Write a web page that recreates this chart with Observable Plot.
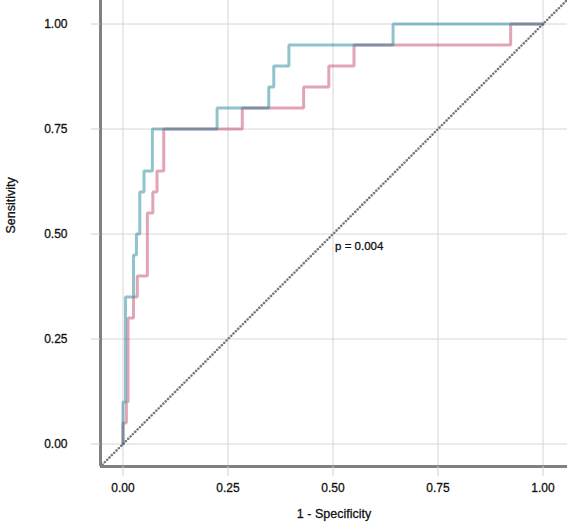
<!DOCTYPE html>
<html>
<head>
<meta charset="utf-8">
<script src="https://cdn.jsdelivr.net/npm/d3@7"></script>
<script src="https://cdn.jsdelivr.net/npm/@observablehq/plot@0.6"></script>
<style>
  html, body { margin: 0; padding: 0; background: #fff; }
  #chart svg { display: block; }
</style>
</head>
<body>
<div id="chart"></div>
<script>
// ROC curve vertices (1 - specificity, sensitivity)
const pinkFpr = [0, 0, 0.008, 0.008, 0.012, 0.012, 0.025, 0.025, 0.034, 0.034, 0.058, 0.058, 0.071, 0.071, 0.081, 0.081, 0.097, 0.097, 0.284, 0.284, 0.43, 0.43, 0.49, 0.49, 0.55, 0.55, 0.923, 0.923, 1];
const pinkTpr = [0, 0.05, 0.05, 0.10, 0.10, 0.30, 0.30, 0.35, 0.35, 0.40, 0.40, 0.55, 0.55, 0.60, 0.60, 0.65, 0.65, 0.75, 0.75, 0.80, 0.80, 0.85, 0.85, 0.90, 0.90, 0.95, 0.95, 1.0, 1.0];

const tealFpr = [0, 0, 0.006, 0.006, 0.025, 0.025, 0.032, 0.032, 0.040, 0.040, 0.050, 0.050, 0.070, 0.070, 0.224, 0.224, 0.347, 0.347, 0.359, 0.359, 0.395, 0.395, 0.643, 0.643, 1];
const tealTpr = [0, 0.10, 0.10, 0.35, 0.35, 0.45, 0.45, 0.50, 0.50, 0.60, 0.60, 0.65, 0.65, 0.75, 0.75, 0.80, 0.80, 0.85, 0.85, 0.90, 0.90, 0.95, 0.95, 1.0, 1.0];

const tickValues = [0, 0.25, 0.5, 0.75, 1];
const tickLabels = ["0.00", "0.25", "0.50", "0.75", "1.00"];
const xTitle = "1 - Specificity";
const yTitle = "Sensitivity";
const pLabel = ["p = 0.004"];

const pink = pinkFpr.map((x, i) => ({x, y: pinkTpr[i]}));
const teal = tealFpr.map((x, i) => ({x, y: tealTpr[i]}));

const xDomain = [-0.05357, 1.0583];
const yDomain = [-0.05357, 1.056];
const diag = [{x: -0.06, y: -0.06}, {x: 1.07, y: 1.07}];

const fmt = d => tickLabels[tickValues.indexOf(d)];
const ink = "#111";
const thick = {stroke: ink, strokeWidth: 0.35, strokeOpacity: 0.9};

const chart = Plot.plot({
  width: 567,
  height: 524,
  marginLeft: 100,
  marginRight: 0,
  marginTop: 0,
  marginBottom: 58,
  style: {fontFamily: "'Liberation Sans', Arial, sans-serif", fontSize: "12px", color: ink, background: "#fff"},
  x: {domain: xDomain, ticks: tickValues},
  y: {domain: yDomain, ticks: tickValues},
  marks: [
    Plot.gridX(tickValues, {stroke: "#d6d6d6", strokeOpacity: 1, strokeWidth: 1}),
    Plot.gridY(tickValues, {stroke: "#d6d6d6", strokeOpacity: 1, strokeWidth: 1}),
    Plot.line(diag, {x: "x", y: "y", stroke: "#7a7a7a", strokeWidth: 2.6, strokeDasharray: "0.01,3.3", strokeLinecap: "round", clip: true}),
    Plot.line(pink, {x: "x", y: "y", stroke: "rgb(189,55,89)", strokeOpacity: 0.45, strokeWidth: 3, strokeLinejoin: "miter"}),
    Plot.line(teal, {x: "x", y: "y", stroke: "rgb(11,122,144)", strokeOpacity: 0.45, strokeWidth: 3, strokeLinejoin: "miter"}),
    Plot.ruleX([xDomain[0]], {stroke: "#808080", strokeWidth: 3}),
    Plot.ruleY([yDomain[0]], {stroke: "#808080", strokeWidth: 3}),
    Plot.axisX(tickValues, {tickFormat: () => "", tickSize: 10, stroke: "#cfcfcf", label: null}),
    Plot.axisY(tickValues, {tickFormat: () => "", tickSize: 9, stroke: "#cfcfcf", label: null}),
    Plot.text(tickValues, {x: d => d, frameAnchor: "bottom", dy: 25, text: fmt, fontSize: 12, fill: ink, ...thick}),
    Plot.text(tickValues, {y: d => d, frameAnchor: "left", dx: -33, textAnchor: "end", text: fmt, fontSize: 12, fill: ink, ...thick}),
    Plot.text([xTitle], {frameAnchor: "bottom", dy: 51, fontSize: 12.5, fill: ink, ...thick}),
    Plot.text([yTitle], {frameAnchor: "left", dx: -90, rotate: -90, fontSize: 12.5, fill: ink, ...thick}),
    Plot.text(pLabel, {x: [0.505], y: [0.47], text: d => d, textAnchor: "start", fontSize: 11.5, fill: ink, ...thick})
  ]
});
document.getElementById("chart").appendChild(chart);
</script>
</body>
</html>
